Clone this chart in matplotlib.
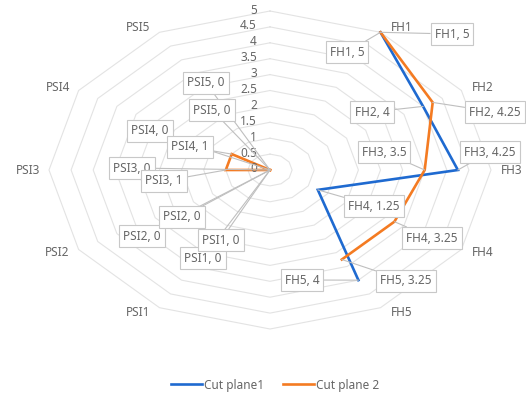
import numpy as np
import matplotlib
matplotlib.use("Agg")
import matplotlib.pyplot as plt

# ---------------------------------------------------------------------------
# Data (12 radar slots clockwise from the top; top and bottom slots are blank)
# ---------------------------------------------------------------------------
categories = ["", "FH1", "FH2", "FH3", "FH4", "FH5",
              "", "PSI1", "PSI2", "PSI3", "PSI4", "PSI5"]
cut_plane1 = [np.nan, 5, 4, 4.25, 1.25, 4, np.nan, 0, 0, 0, 0, 0]
cut_plane2 = [np.nan, 5, 4.25, 3.5, 3.25, 3.25, np.nan, 0, 0, 1, 1, 0]
series_names = ["Cut plane1", "Cut plane 2"]
r_ticks = [0, 0.5, 1, 1.5, 2, 2.5, 3, 3.5, 4, 4.5, 5]
r_max = 5

# label box centres in figure pixels (x, y from top), per series and slot
label_pos = {
    0: {1: (347, 52), 2: (372, 112), 3: (490, 152), 4: (374, 206), 5: (302, 280),
        7: (203, 258), 8: (142, 236), 9: (132, 168), 10: (150, 131), 11: (206, 83)},
    1: {1: (452, 34), 2: (495, 112), 3: (384, 152), 4: (432, 238), 5: (406, 281),
        7: (221, 240), 8: (182, 217), 9: (164, 181), 10: (190, 147), 11: (212, 110)},
}

W, H = 526, 403
CX, CY = 270, 170          # chart centre in pixels (y from top)
RX, RY = 221, 159          # pixel radius of the outer ring (stretched chart)

colors = ["#1f6ad0", "#f47b22"]
grid_c = "#e3e3e3"
text_c = "#666666"
plt.rcParams["font.family"] = ["Noto Sans", "DejaVu Sans"]

fig = plt.figure(figsize=(W / 100, H / 100), dpi=100)
ax = fig.add_axes([0, 0, 1, 1])
ax.set_xlim(-CX / RX, (W - CX) / RX)
ax.set_ylim(-(H - CY) / RY, CY / RY)
ax.axis("off")

n = len(categories)
theta = np.radians(90 - 360 / n * np.arange(n))
ct, st = np.cos(theta), np.sin(theta)

# polygon grid
for r in r_ticks[1:]:
    f = r / r_max
    ax.plot(np.append(ct, ct[0]) * f, np.append(st, st[0]) * f,
            color=grid_c, lw=0.8, zorder=1)

# radial value labels
for r in r_ticks:
    ax.annotate(f"{r:g}", xy=(0, r / r_max), xytext=(-13, 1),
                textcoords="offset pixels", ha="right", va="center",
                fontsize=8.5, color=text_c, zorder=3)

# category labels
for i, name in enumerate(categories):
    if not name:
        continue
    dx = 21 * np.sign(round(ct[i], 6))
    dy = 6 * st[i]
    ax.annotate(name, xy=(ct[i], st[i]), xytext=(dx, dy),
                textcoords="offset pixels", ha="center", va="center",
                fontsize=8.5, color=text_c, zorder=3)

# series lines
for k, vals in enumerate([cut_plane1, cut_plane2]):
    v = np.array(vals, dtype=float) / r_max
    ax.plot(np.append(ct * v, ct[0] * v[0]), np.append(st * v, st[0] * v[0]),
            color=colors[k], lw=1.9, label=series_names[k], zorder=2,
            solid_joinstyle="miter")

# data labels with leader lines
for k, vals in enumerate([cut_plane1, cut_plane2]):
    for i, val in enumerate(vals):
        if np.isnan(val):
            continue
        px, py = label_pos[k][i]
        f = val / r_max
        ax.annotate(f"{categories[i]}, {val:g}",
                    xy=(ct[i] * f, st[i] * f), xytext=(px, H - py),
                    textcoords="figure pixels", ha="center", va="center",
                    fontsize=8.5, color=text_c, zorder=5,
                    bbox=dict(boxstyle="square,pad=0.35", fc="white",
                              ec="#c8c8c8", lw=0.8),
                    arrowprops=dict(arrowstyle="-", color="#bfbfbf", lw=0.8,
                                    shrinkA=0, shrinkB=0))

fig.legend(loc="center", bbox_to_anchor=(275 / W, 1 - 385 / H), ncol=2,
           frameon=False, fontsize=8.5, handlelength=2.6, columnspacing=1.6,
           handletextpad=0.2, labelcolor=text_c)

fig.savefig("out.png", dpi=100)
